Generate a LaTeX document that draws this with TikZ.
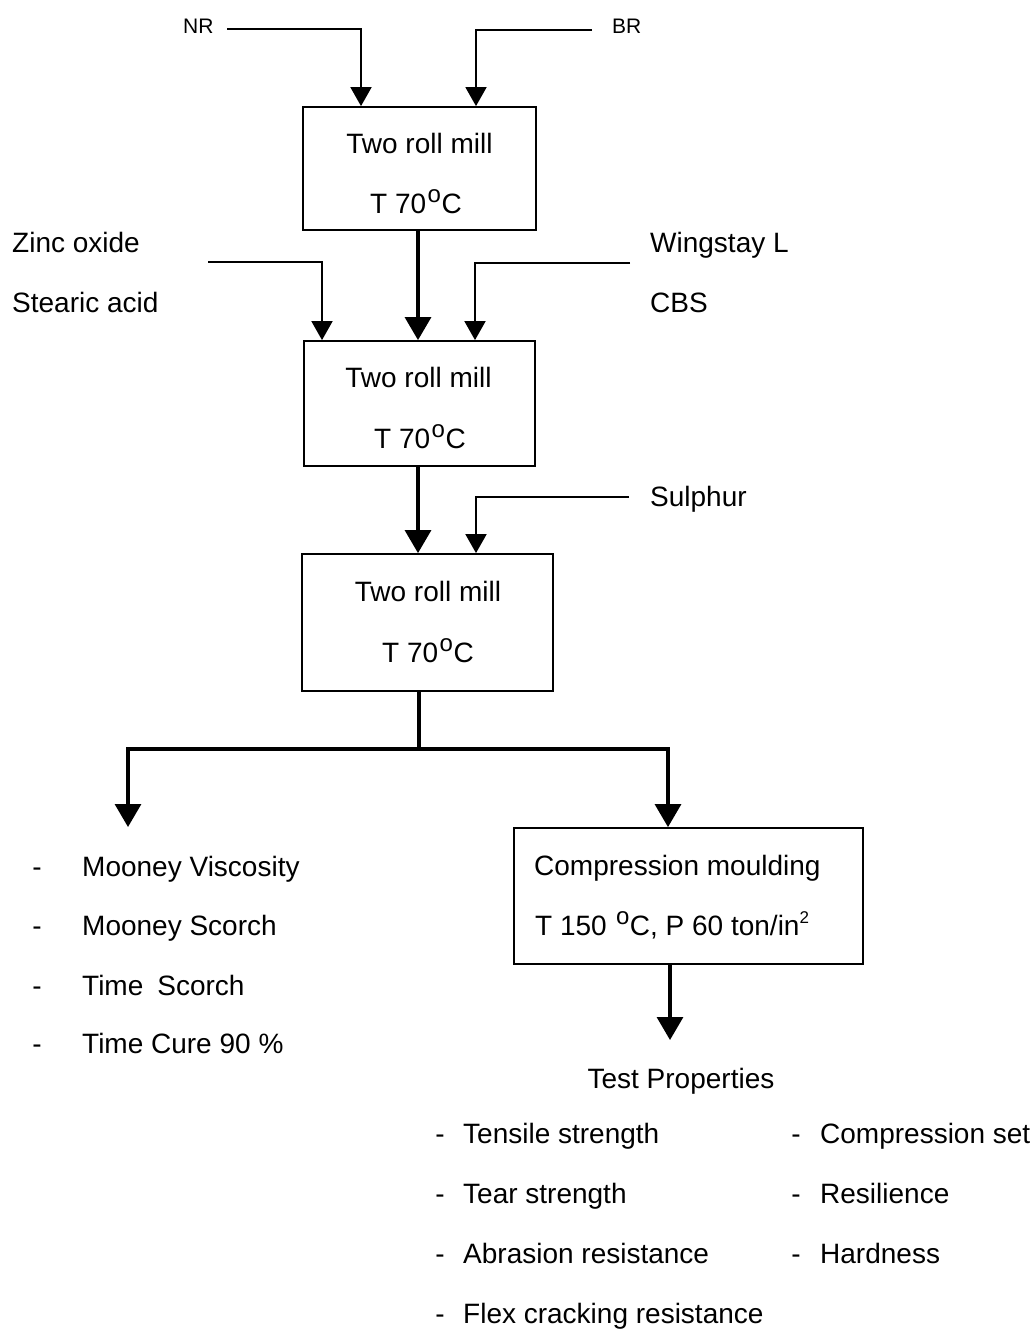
\documentclass[tikz,border=0pt]{standalone}
\usepackage{fontspec}
\setmainfont{Liberation Sans}
\usetikzlibrary{arrows.meta}
\newcommand{\degsym}{\hspace{1.5pt}\raisebox{10.5pt}{\fontsize{24}{24}\selectfont o}\hspace{0.5pt}}
\begin{document}
\begin{tikzpicture}[x=1pt,y=-1pt,
  box/.style={draw, line width=1.8pt, inner sep=0pt},
  lbl/.style={font=\fontsize{28}{28}\selectfont, anchor=base, inner sep=0pt},
  lblw/.style={font=\fontsize{28}{28}\selectfont, anchor=base west, inner sep=0pt},
  small/.style={font=\fontsize{21}{21}\selectfont, anchor=base west, inner sep=0pt},
  inarrow/.style={line width=1.8pt, -{Triangle[width=21pt,length=19pt]}},
  mainarrow/.style={line width=3.2pt, -{Triangle[width=26pt,length=23pt]}},
  mainline/.style={line width=3.2pt},
]
\useasboundingbox (0,0) rectangle (1036,1331);
\fill[white] (0,0) rectangle (1036,1331);

% boxes
\node[box, minimum width=233pt, minimum height=123pt] (b1) at (419.5,168.5) {};
\node[box, minimum width=231pt, minimum height=125pt] (b2) at (419.5,403.5) {};
\node[box, minimum width=251pt, minimum height=137pt] (b3) at (427.5,622.5) {};
\node[box, minimum width=349pt, minimum height=136pt] (b4) at (688.5,896) {};

% box texts
\node[lbl] (t1a) at (419.5,153) {Two roll mill};
\node[lbl] (t1b) at (416,213) {T 70\degsym C};
\node[lbl] (t2a) at (418.5,387) {Two roll mill};
\node[lbl] (t2b) at (420,448) {T 70\degsym C};
\node[lbl] (t3a) at (428,601) {Two roll mill};
\node[lbl] (t3b) at (428,662) {T 70\degsym C};
\node[lblw] (t4a) at (534,875) {Compression moulding};
\node[lblw] (t4b) at (535,935) {T 150 \degsym C, P 60 ton/in\raisebox{12pt}{\fontsize{17}{17}\selectfont 2}};

% inputs
\node[small] (nr) at (183,33) {NR};
\node[small] (br) at (612,33) {BR};
\node[lblw] (zinc) at (12,252) {Zinc oxide};
\node[lblw] (stear) at (12,312) {Stearic acid};
\node[lblw] (wing) at (650,252) {Wingstay L};
\node[lblw] (cbs) at (650,312) {CBS};
\node[lblw] (sulph) at (650,506) {Sulphur};

% input connectors
\coordinate (nrS) at (227,29);
\coordinate (nrK) at (361,29);
\draw[inarrow] (nrS) -- (nrK) -- (b1.north -| nrK);
\coordinate (brS) at (592,30);
\coordinate (brK) at (476,30);
\draw[inarrow] (brS) -- (brK) -- (b1.north -| brK);
\coordinate (znS) at (208,262);
\coordinate (znK) at (322,262);
\draw[inarrow] (znS) -- (znK) -- (b2.north -| znK);
\coordinate (wgS) at (630,263);
\coordinate (wgK) at (475,263);
\draw[inarrow] (wgS) -- (wgK) -- (b2.north -| wgK);
\coordinate (suS) at (629,497);
\coordinate (suK) at (476,497);
\draw[inarrow] (suS) -- (suK) -- (b3.north -| suK);

% main flow
\coordinate (m1) at (418,0);
\draw[mainarrow] (b1.south -| m1) -- (b2.north -| m1);
\draw[mainarrow] (b2.south -| m1) -- (b3.north -| m1);
\coordinate (split) at (419,749);
\coordinate (lk) at (128,749);
\coordinate (rk) at (668,749);
\coordinate (ltip) at (128,827);
\draw[mainline] (b3.south -| split) -- (split);
\draw[line width=3.2pt, {Triangle[width=26pt,length=23pt]}-{Triangle[width=26pt,length=23pt]}] (ltip) -- (lk) -- (rk) -- (b4.north -| rk);
\coordinate (btip) at (670,1040);
\draw[mainarrow] (b4.south -| btip) -- (btip);

% left list
\node[lbl] (d1) at (37,876) {-};
\node[lblw] (l1) at (82,876) {Mooney Viscosity};
\node[lbl] (d2) at (37,935) {-};
\node[lblw] (l2) at (82,935) {Mooney Scorch};
\node[lbl] (d3) at (37,995) {-};
\node[lblw] (l3) at (82,995) {Time\hspace{14pt}Scorch};
\node[lbl] (d4) at (37,1053) {-};
\node[lblw] (l4) at (82,1053) {Time Cure 90 \%};

% test properties
\node[lbl] (tp) at (681,1088) {Test Properties};
\node[lbl] (e1) at (440,1143) {-};
\node[lblw] (p1) at (463,1143) {Tensile strength};
\node[lbl] (e2) at (440,1203) {-};
\node[lblw] (p2) at (463,1203) {Tear strength};
\node[lbl] (e3) at (440,1263) {-};
\node[lblw] (p3) at (463,1263) {Abrasion resistance};
\node[lbl] (e4) at (440,1323) {-};
\node[lblw] (p4) at (463,1323) {Flex cracking resistance};
\node[lbl] (f1) at (796,1143) {-};
\node[lblw] (q1) at (820,1143) {Compression set};
\node[lbl] (f2) at (796,1203) {-};
\node[lblw] (q2) at (820,1203) {Resilience};
\node[lbl] (f3) at (796,1263) {-};
\node[lblw] (q3) at (820,1263) {Hardness};
\end{tikzpicture}
\end{document}
